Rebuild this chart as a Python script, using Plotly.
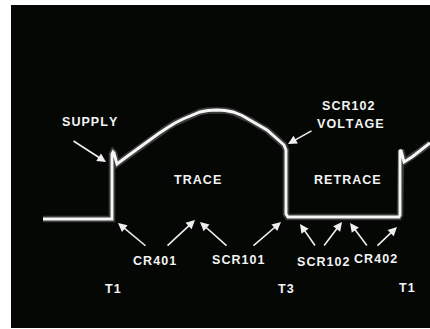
import plotly.graph_objects as go

# Waveform (time units, voltage units)
time = [43, 112, 112, 113, 114, 117, 125, 133, 142, 150, 158, 167, 175, 183, 192, 200, 208, 217,
        225, 233, 242, 250, 258, 267, 275, 280, 284, 286, 286, 288, 399, 400, 400, 401, 404,
        412, 420, 430]
voltage = [110, 110, 175, 177, 176, 165, 171, 177, 183, 189, 195, 201, 206, 210, 214, 217, 218.5, 219,
           218.5, 217, 213.5, 209, 204, 199, 192, 188, 184, 179, 115, 112, 112, 114, 178, 179, 167,
           172, 178, 186]

# Text labels
label_text = ["SUPPLY", "TRACE", "RETRACE", "SCR102", "VOLTAGE", "CR401", "SCR101", "SCR102", "CR402",
              "T1", "T3", "T1"]
label_t = [90, 197, 347, 348, 350, 154, 238, 323, 375, 113, 286, 407]
label_v = [207, 149, 149, 223, 205, 68, 69, 67, 70, 40, 40, 41]

# Pointer arrows (tail -> head)
arrow_tail_t = [72, 313, 147, 166, 228, 252, 316, 323, 368, 376]
arrow_tail_v = [189, 199, 82, 82, 82, 82, 82, 82, 82, 82]
arrow_head_t = [106, 288, 118, 195, 200, 281, 300, 342, 350, 397]
arrow_head_v = [167, 185, 106, 109, 107, 107, 105, 107, 106, 102]

fig = go.Figure()
fig.add_trace(go.Scatter(x=time, y=voltage, mode="lines",
                         line=dict(color="rgba(255,255,255,0.22)", width=6.5),
                         hoverinfo="skip"))
fig.add_trace(go.Scatter(x=time, y=voltage, mode="lines",
                         line=dict(color="#f6f6f6", width=2.9),
                         hoverinfo="skip"))

TS = "\u200a"
annotations = []
for txt, t, v in zip(label_text, label_t, label_v):
    annotations.append(dict(x=t, y=v, xref="x", yref="y", text="<b>" + TS.join(txt) + "</b>",
                            showarrow=False, font=dict(family="Liberation Sans, Arial", size=12.5,
                                                       color="#f4f4f4"),
                            xanchor="center", yanchor="middle"))
for tt, tv, ht, hv in zip(arrow_tail_t, arrow_tail_v, arrow_head_t, arrow_head_v):
    annotations.append(dict(x=ht, y=hv, ax=tt, ay=tv, xref="x", yref="y", axref="x", ayref="y",
                            text="", showarrow=True, arrowhead=2, arrowsize=1.1, arrowwidth=1.6,
                            arrowcolor="#eeeeee", standoff=0, startstandoff=0))

fig.update_layout(
    width=430, height=329,
    margin=dict(l=11, r=0, t=5, b=1, pad=0),
    paper_bgcolor="white",
    plot_bgcolor="#050705",
    showlegend=False,
    annotations=annotations,
    xaxis=dict(range=[11, 430], visible=False, fixedrange=True),
    yaxis=dict(range=[1, 324], visible=False, fixedrange=True),
)

fig.write_html("out.html", config={"displayModeBar": False})

with open("out.html", encoding="utf-8") as f:
    html = f.read()
html = html.replace("<body>", '<body style="margin:0;padding:0;overflow:hidden">', 1)
html = html.replace("<head>", "<head><style>html,body{margin:0;padding:0;}</style>", 1)
with open("out.html", "w", encoding="utf-8") as f:
    f.write(html)
